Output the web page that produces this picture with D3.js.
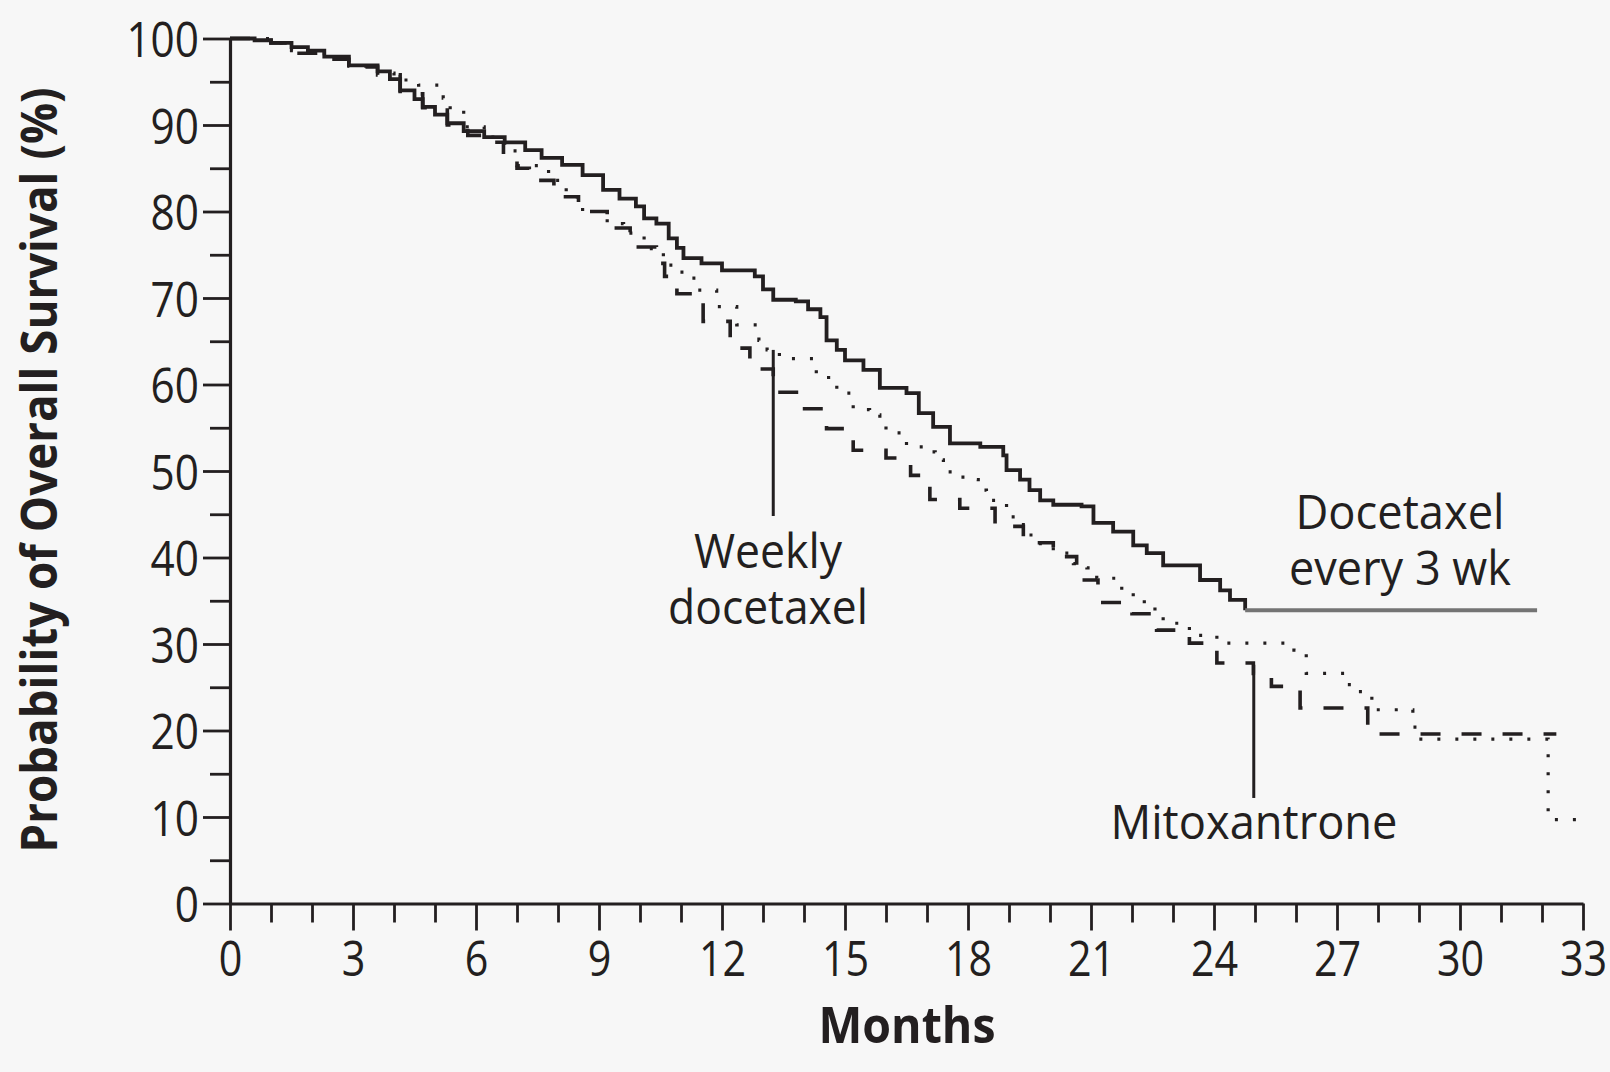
<!DOCTYPE html>
<html>
<head>
<meta charset="utf-8">
<script src="https://cdn.jsdelivr.net/npm/d3@7"></script>
<style>
  html, body { margin: 0; padding: 0; background: #f7f7f7; }
  svg { display: block; }
</style>
</head>
<body>
<svg id="chart" width="1610" height="1072"></svg>
<script>
// ---------- DATA ----------
const xTickValues = [0, 3, 6, 9, 12, 15, 18, 21, 24, 27, 30, 33];
const yTickValues = [0, 10, 20, 30, 40, 50, 60, 70, 80, 90, 100];

// Docetaxel every 3 wk (solid)
const monthsQ3W = [0, 0.6, 1.0, 1.5, 1.9, 2.3, 2.9, 3.6, 3.9, 4.15, 4.5, 4.7, 5.0, 5.3, 5.7, 6.2, 6.7, 7.2, 7.6, 8.1, 8.6, 9.1, 9.5, 9.9, 10.1, 10.4, 10.7, 10.9, 11.06, 11.5, 12.0, 12.8, 13.0, 13.25, 13.8, 14.1, 14.4, 14.55, 14.8, 15.0, 15.45, 15.85, 16.5, 16.8, 17.15, 17.56, 18.3, 18.86, 18.94, 19.27, 19.5, 19.76, 20.08, 20.77, 21.06, 21.54, 22.03, 22.36, 22.76, 23.66, 24.15, 24.39, 24.76, 31.88];
const survivalQ3W = [100, 99.8, 99.5, 99.0, 98.6, 97.9, 96.9, 96.2, 95.3, 94.0, 93.0, 92.1, 91.2, 90.2, 89.3, 88.6, 88.0, 87.1, 86.2, 85.4, 84.2, 82.5, 81.5, 80.6, 79.2, 78.6, 76.9, 75.8, 74.6, 74.0, 73.2, 72.5, 71.0, 69.8, 69.6, 68.7, 67.8, 65.1, 64.0, 62.8, 61.7, 59.6, 59.0, 56.7, 55.1, 53.2, 52.8, 51.8, 50.1, 49.0, 47.8, 46.6, 46.1, 45.9, 44.0, 43.0, 41.4, 40.5, 39.1, 37.4, 36.2, 35.1, 33.9, 33.9];

// Weekly docetaxel (dotted)
const monthsWeekly = [0, 1.0, 1.5, 2.3, 2.9, 3.6, 4.0, 4.6, 5.2, 5.37, 5.7, 6.2, 6.7, 7.0, 7.77, 8.2, 8.6, 9.2, 9.6, 10.1, 10.57, 10.9, 11.2, 11.4, 11.87, 12.36, 12.9, 13.1, 13.4, 14.3, 14.6, 14.8, 15.2, 15.6, 15.85, 16.0, 16.5, 16.9, 17.2, 17.4, 17.7, 18.05, 18.25, 18.45, 18.94, 19.2, 19.4, 19.67, 20.08, 20.57, 20.9, 21.14, 21.75, 22.03, 22.3, 22.56, 22.76, 23.13, 23.4, 24.07, 25.95, 26.25, 27.2, 27.5, 27.85, 28.85, 29.0, 32.15, 33.0];
const survivalWeekly = [100, 99.5, 98.6, 97.8, 96.8, 96.0, 95.2, 94.6, 93.1, 91.7, 89.8, 88.6, 87.0, 85.3, 83.6, 81.7, 80.0, 78.6, 77.5, 75.7, 73.8, 73.0, 72.3, 70.9, 69.0, 66.9, 65.1, 64.0, 63.0, 61.3, 60.3, 59.0, 57.1, 56.5, 55.7, 54.4, 52.8, 52.2, 51.3, 49.9, 49.3, 49.0, 47.8, 46.6, 44.7, 43.8, 42.6, 41.6, 40.5, 39.3, 38.8, 37.6, 36.2, 35.5, 34.3, 33.5, 32.4, 32.0, 31.0, 30.1, 29.3, 26.6, 25.3, 24.5, 22.4, 20.4, 19.0, 9.7, 9.7];

// Mitoxantrone (dashed)
const monthsMitox = [0, 1.0, 1.4, 2.3, 2.9, 3.6, 4.15, 4.7, 5.3, 5.8, 6.2, 6.67, 7.0, 7.3, 7.9, 8.5, 9.2, 9.76, 10.4, 10.6, 10.9, 11.54, 12.2, 12.68, 13.25, 13.9, 14.55, 15.2, 16.0, 16.6, 17.07, 17.8, 18.66, 19.35, 20.08, 20.65, 21.17, 22.0, 22.6, 23.4, 24.07, 24.96, 25.4, 26.1, 27.75, 32.35];
const survivalMitox = [100, 99.5, 98.3, 97.6, 96.7, 95.8, 93.6, 92.0, 90.0, 88.8, 88.0, 86.3, 85.0, 83.6, 81.7, 80.0, 78.1, 75.9, 74.0, 72.5, 70.5, 67.3, 64.2, 61.8, 59.1, 57.2, 54.9, 52.4, 51.5, 49.5, 46.7, 45.7, 43.6, 41.7, 40.1, 37.4, 34.8, 33.5, 31.6, 30.1, 27.8, 26.6, 25.1, 22.6, 19.6, 19.6];

const yAxisTitle = "Probability of Overall Survival (%)";
const xAxisTitle = "Months";
const labelWeekly = ["Weekly", "docetaxel"];
const labelQ3W = ["Docetaxel", "every 3 wk"];
const labelMitox = ["Mitoxantrone"];
// pointer lines: [month, from survival, to survival]
const pointerWeekly = [13.25, 64.0, 44.8];
const pointerMitox = [24.97, 27.6, 12.2];

// ---------- DRAWING ----------
const INK = "#231f20";
const FONT = "'Open Sans', 'Noto Sans', sans-serif";
const svg = d3.select("#chart");
svg.append("rect").attr("width", 1610).attr("height", 1072).attr("fill", "#f7f7f7");

const x = d3.scaleLinear().domain([0, 33]).range([230, 1583]);
const y = d3.scaleLinear().domain([0, 100]).range([903.5, 38.5]);

function fit(sel, perChar) {
  sel.each(function() {
    const t = d3.select(this);
    const s = t.text();
    t.attr("textLength", s.length * perChar).attr("lengthAdjust", "spacingAndGlyphs");
  });
}

// x axis minor ticks
const xMinor = d3.range(0, 34).filter(d => d % 3 !== 0);
svg.append("g").attr("transform", `translate(0,${y(0)})`)
  .call(d3.axisBottom(x).tickValues(xMinor).tickSize(19).tickSizeOuter(0).tickFormat(""))
  .call(g => g.select(".domain").remove())
  .call(g => g.selectAll(".tick line").attr("stroke", INK).attr("stroke-width", 2.8));
// x axis major
const gx = svg.append("g").attr("transform", `translate(0,${y(0)})`)
  .call(d3.axisBottom(x).tickValues(xTickValues).tickSize(27).tickSizeOuter(0).tickPadding(9).tickFormat(d3.format("d")));
gx.select(".domain").attr("stroke", INK).attr("stroke-width", 3.2);
gx.selectAll(".tick line").attr("stroke", INK).attr("stroke-width", 2.8);
gx.selectAll(".tick text").attr("fill", INK).attr("font-family", FONT).attr("font-size", 50).attr("dy", "0.72em").call(fit, 23.6);

// y axis minor ticks
const yMinor = d3.range(5, 100, 10);
svg.append("g").attr("transform", `translate(${x(0)},0)`)
  .call(d3.axisLeft(y).tickValues(yMinor).tickSize(20).tickSizeOuter(0).tickFormat(""))
  .call(g => g.select(".domain").remove())
  .call(g => g.selectAll(".tick line").attr("stroke", INK).attr("stroke-width", 2.8));
const gy = svg.append("g").attr("transform", `translate(${x(0)},0)`)
  .call(d3.axisLeft(y).tickValues(yTickValues).tickSize(27).tickSizeOuter(0).tickPadding(4).tickFormat(d3.format("d")));
gy.select(".domain").attr("stroke", INK).attr("stroke-width", 3.2);
gy.selectAll(".tick line").attr("stroke", INK).attr("stroke-width", 2.8);
gy.selectAll(".tick text").attr("fill", INK).attr("font-family", FONT).attr("font-size", 50).attr("dy", "0.36em").call(fit, 24.2);

// curves
const line = d3.line().x(d => x(d[0])).y(d => y(d[1])).curve(d3.curveStepAfter);
const weekly = d3.zip(monthsWeekly, survivalWeekly);
const mitox = d3.zip(monthsMitox, survivalMitox);
const q3w = d3.zip(monthsQ3W, survivalQ3W);

svg.append("path").attr("d", line(weekly)).attr("fill", "none")
  .attr("stroke", INK).attr("stroke-width", 3.2).attr("stroke-dasharray", "3,15");
svg.append("path").attr("d", line(mitox)).attr("fill", "none")
  .attr("stroke", INK).attr("stroke-width", 3.6).attr("stroke-dasharray", "20,21");
svg.append("path").attr("d", line(q3w.slice(0, q3w.length - 1))).attr("fill", "none")
  .attr("stroke", INK).attr("stroke-width", 3.8).attr("stroke-linejoin", "miter");
svg.append("path").attr("d", line(q3w.slice(q3w.length - 2))).attr("fill", "none")
  .attr("stroke", "#747474").attr("stroke-width", 4);

// pointer lines
[pointerWeekly, pointerMitox].forEach(p => {
  svg.append("line").attr("x1", x(p[0])).attr("x2", x(p[0]))
    .attr("y1", y(p[1])).attr("y2", y(p[2])).attr("stroke", INK).attr("stroke-width", 3);
});

// series labels
function label(lines, cx, baseline0, widths) {
  lines.forEach((s, i) => {
    svg.append("text").attr("x", cx).attr("y", baseline0 + i * 56)
      .attr("text-anchor", "middle").attr("fill", INK)
      .attr("font-family", FONT).attr("font-size", 48)
      .attr("textLength", widths[i]).attr("lengthAdjust", "spacingAndGlyphs")
      .text(s);
  });
}
label(labelWeekly, 768, 568, [148, 200]);
label(labelQ3W, 1400, 529, [209, 222]);
label(labelMitox, 1254, 839, [287]);

// axis titles
svg.append("text").attr("x", 907).attr("y", 1043).attr("text-anchor", "middle")
  .attr("fill", INK).attr("font-family", FONT).attr("font-weight", 700).attr("font-size", 50)
  .attr("textLength", 177).attr("lengthAdjust", "spacingAndGlyphs").text(xAxisTitle);
svg.append("text").attr("transform", "translate(57,470) rotate(-90)").attr("text-anchor", "middle")
  .attr("fill", INK).attr("font-family", FONT).attr("font-weight", 700).attr("font-size", 50)
  .attr("textLength", 765).attr("lengthAdjust", "spacingAndGlyphs").text(yAxisTitle);
</script>
</body>
</html>
